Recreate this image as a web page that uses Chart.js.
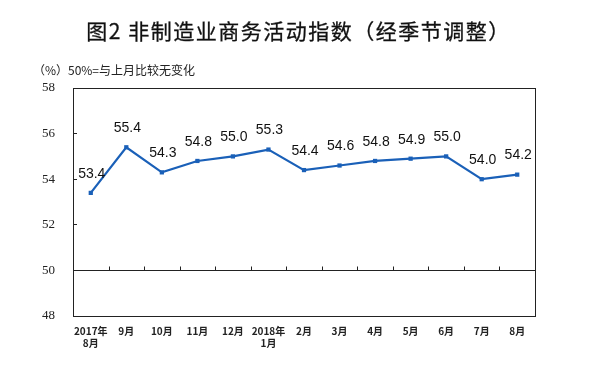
<!DOCTYPE html>
<html>
<head>
<meta charset="utf-8">
<script src="https://cdn.jsdelivr.net/npm/chart.js@4/dist/chart.umd.min.js"></script>
<style>
    html, body { margin: 0; padding: 0; background: #fff; }
    #wrap { position: relative; width: 589px; height: 376px; }
    #title {
        position: absolute; left: 4px; top: 15px; width: 589px; text-align: center;
        font: normal 21px "Noto Sans CJK SC", sans-serif; color: #111; letter-spacing: 1.5px;
        -webkit-text-stroke: 0.3px #111;
    }
    #unit {
        position: absolute; left: 33px; top: 61px;
        font: 12px "Noto Sans CJK SC", sans-serif; color: #222;
    }
    #note {
        position: absolute; left: 68px; top: 61px;
        font: 12px "Noto Sans CJK SC", sans-serif; color: #222;
    }
</style>
</head>
<body>
<div id="wrap">
    <canvas id="chart" width="589" height="376"></canvas>
    <div id="title">图2 非制造业商务活动指数（经季节调整）</div>
    <div id="unit">（%）</div>
    <div id="note">50%=与上月比较无变化</div>
</div>
<script>
const MONTHS = [
    ['2017年', '8月'], '9月', '10月', '11月', '12月', ['2018年', '1月'],
    '2月', '3月', '4月', '5月', '6月', '7月', '8月'
];
const INDEX_VALUES = [53.4, 55.4, 54.3, 54.8, 55.0, 55.3, 54.4, 54.6, 54.8, 54.9, 55.0, 54.0, 54.2];
const Y_MIN = 48;
const Y_MAX = 58;
const BASE_LINE = 50;

const LINE_COLOR = '#1a60b8';

// frame, 50% base line and its tick marks, value labels
const overlay_plugin = {
    id: 'overlay',
    afterDatasetsDraw(chart) {
        const ctx = chart.ctx;
        const area = chart.chartArea;
        const x = chart.scales.x;
        const y = chart.scales.y;
        const base_y = Math.round(y.getPixelForValue(BASE_LINE)) + 0.5;

        ctx.save();
        ctx.strokeStyle = '#222';
        ctx.lineWidth = 1;
        ctx.strokeRect(Math.round(area.left) + 0.5, Math.round(area.top) + 0.5,
            Math.round(area.width), Math.round(area.height));

        ctx.beginPath();
        ctx.moveTo(area.left, base_y);
        ctx.lineTo(area.right, base_y);
        for (let i = 1; i < MONTHS.length; i++) {
            const tx = Math.round(x.getPixelForValue(i - 0.5)) + 0.5;
            ctx.moveTo(tx, base_y);
            ctx.lineTo(tx, base_y - 4);
        }
        ctx.stroke();

        ctx.fillStyle = '#111';
        ctx.font = '14px "Liberation Sans", Arial, sans-serif';
        ctx.textAlign = 'center';
        ctx.textBaseline = 'middle';
        const meta = chart.getDatasetMeta(0);
        meta.data.forEach((pt, i) => {
            ctx.fillText(INDEX_VALUES[i].toFixed(1), pt.x + 1, pt.y - 19);
        });
        ctx.restore();
    }
};

new Chart(document.getElementById('chart'), {
    type: 'line',
    data: {
        labels: MONTHS,
        datasets: [{
            data: INDEX_VALUES,
            borderColor: LINE_COLOR,
            backgroundColor: LINE_COLOR,
            borderWidth: 2.2,
            pointStyle: 'rect',
            pointRadius: 3,
            pointBorderWidth: 0,
            tension: 0,
        }]
    },
    options: {
        responsive: false,
        animation: false,
        layout: { padding: { left: 0, right: 54, top: 88, bottom: 0 } },
        plugins: {
            legend: { display: false },
            tooltip: { enabled: false },
        },
        scales: {
            x: {
                offset: true,
                grid: { display: false, drawTicks: false },
                border: { display: false },
                ticks: {
                    color: '#222',
                    font: { family: '"Noto Sans CJK SC", sans-serif', size: 10, weight: 'bold' },
                    padding: 9,
                    maxRotation: 0,
                    autoSkip: false,
                },
                afterFit(scale) { scale.height = 60; },
            },
            y: {
                min: Y_MIN,
                max: Y_MAX,
                grid: {
                    display: true,
                    drawOnChartArea: false,
                    drawTicks: true,
                    tickLength: -4,
                    color: '#222',
                },
                border: { display: false },
                ticks: {
                    stepSize: 2,
                    color: '#222',
                    font: { family: '"Liberation Serif", serif', size: 13 },
                    padding: 22,
                },
                afterFit(scale) { scale.width = 73; },
            },
        },
    },
    plugins: [overlay_plugin],
});
</script>
</body>
</html>
